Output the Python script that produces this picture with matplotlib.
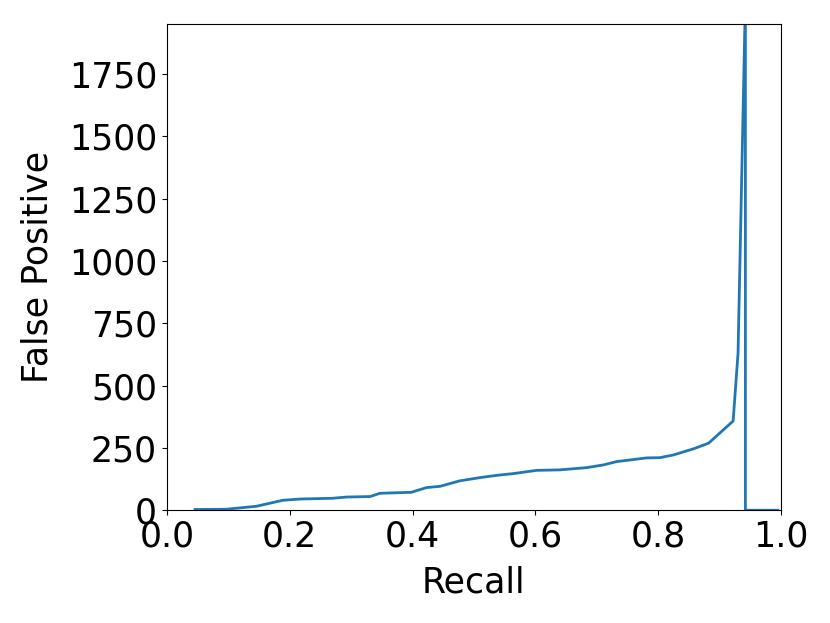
import numpy as np
import matplotlib
matplotlib.use('Agg')
import matplotlib.pyplot as plt

# valores
recall = [0.046, 0.097, 0.146, 0.189, 0.217, 0.270, 0.293, 0.331, 0.347, 0.398,
          0.423, 0.445, 0.477, 0.510, 0.537, 0.564, 0.602, 0.640, 0.684, 0.711,
          0.732, 0.781, 0.803, 0.825, 0.857, 0.882, 0.922, 0.930, 0.942, 0.942,
          0.995]
false_pos = [3, 4, 16, 40, 45, 48, 53, 55, 68, 72,
             91, 96, 118, 131, 140, 147, 160, 162, 171, 182,
             195, 210, 211, 222, 246, 269, 358, 630, 2050, 0,
             0]

plt.rcParams['font.size'] = 25

fig = plt.figure(figsize=(8.3, 6.23), dpi=100)
ax = fig.add_axes([0.201, 0.181, 0.740, 0.780])
ax.plot(recall, false_pos, color='#1f77b4', linewidth=2)
ax.set_xlim(0.0, 1.0)
ax.set_ylim(0, 1950)
ax.set_yticks([0, 250, 500, 750, 1000, 1250, 1500, 1750])
ax.set_xlabel('Recall', labelpad=8)
ax.set_ylabel('False Positive', labelpad=10)

fig.savefig('out.png', dpi=100)
